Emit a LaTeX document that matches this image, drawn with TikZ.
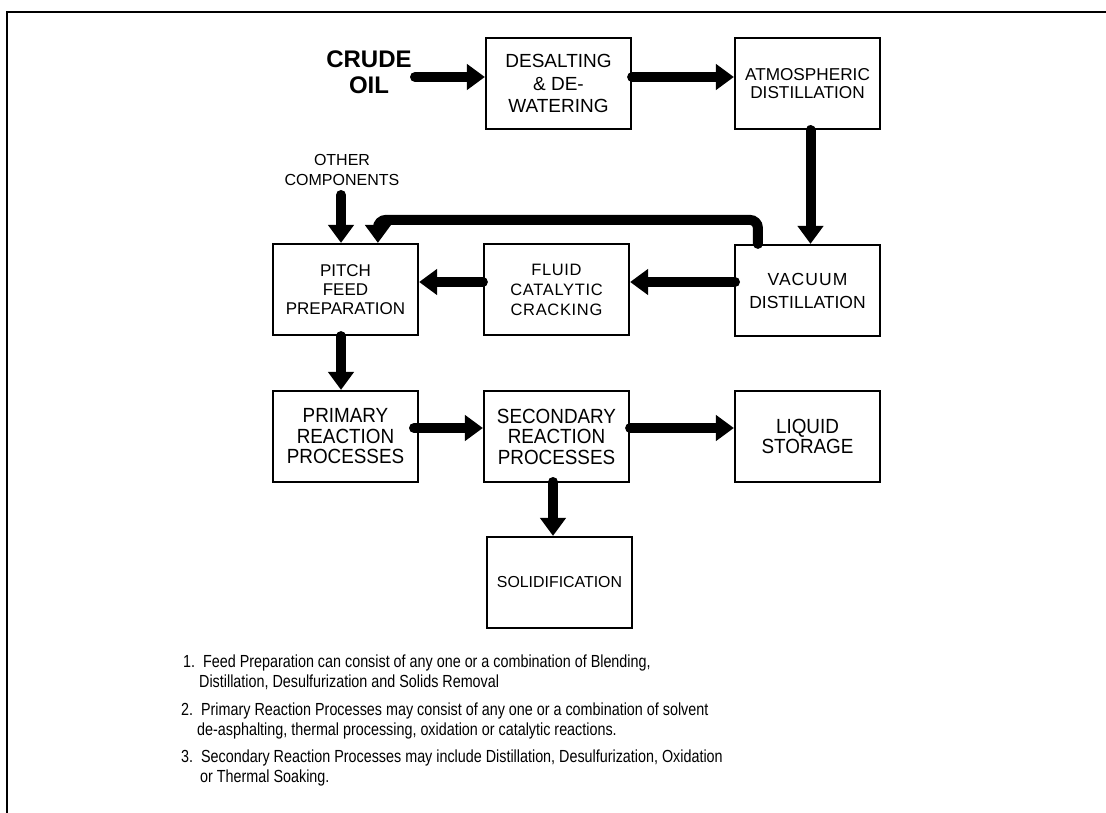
\documentclass[tikz,border=0pt]{standalone}
\usepackage{fontspec}
\setmainfont{Liberation Sans}
\newfontfamily\spacedA[LetterSpace=6]{Liberation Sans}
\newfontfamily\spacedB[LetterSpace=4]{Liberation Sans}
\newfontfamily\tallfont[FakeStretch=0.92]{Liberation Sans}
\newfontfamily\narrowfont[FakeStretch=0.82]{Liberation Sans}
\usetikzlibrary{arrows.meta}
\tikzset{
  box/.style={draw, line width=2.2pt, inner sep=0pt, minimum width=145pt, minimum height=91pt, align=center},
  flow/.style={line width=10pt, line cap=round, -{Triangle[width=25pt,length=18pt]}},
  note/.style={anchor=base west, inner sep=0pt, font={\narrowfont\fontsize{17.5}{20}\selectfont}},
}
\begin{document}
\begin{tikzpicture}[x=1pt,y=-1pt]
\useasboundingbox (0,0) rectangle (1106,813);
% frame
\draw[line width=2.5pt] (7,813) -- (7,12) -- (1106,12);

% boxes
\node[box, font={\fontsize{19}{22.5}\selectfont}] (desalt) at (558.5,83.5) {DESALTING\\\& DE-\\WATERING};
\node[box, font={\fontsize{17.2}{18.5}\selectfont}] (atmos) at (807.5,83.5) {ATMOSPHERIC\\DISTILLATION};
\node[box, font={\fontsize{17.5}{23}\selectfont}] (vacuum) at (807.5,290.5) {{\spacedA VACUUM}\\DISTILLATION};
\node[box, font={\spacedB\fontsize{16.5}{20}\selectfont}] (fcc) at (556.5,289.5) {FLUID\\CATALYTIC\\CRACKING};
\node[box, font={\fontsize{17}{19}\selectfont}] (pitch) at (345.5,289.5) {PITCH\\FEED\\PREPARATION};
\node[box, font={\tallfont\fontsize{20.5}{20.5}\selectfont}] (primary) at (345.5,436.5) {PRIMARY\\REACTION\\PROCESSES};
\node[box, font={\tallfont\fontsize{20.5}{20.5}\selectfont}] (secondary) at (556.5,436.5) {SECONDARY\\REACTION\\PROCESSES};
\node[box, font={\tallfont\fontsize{20.5}{20.5}\selectfont}] (liquid) at (807.5,436.5) {LIQUID\\STORAGE};
\node[box, font={\fontsize{15.9}{19}\selectfont}] (solid) at (559.5,582.5) {SOLIDIFICATION};

% free texts
\node[align=center, inner sep=0pt, font={\bfseries\fontsize{24}{26}\selectfont}] (crude) at (369,72) {CRUDE\\OIL};
\node[align=center, inner sep=0pt, font={\fontsize{16}{20}\selectfont}] (other) at (342,170) {OTHER\\COMPONENTS};

% connectors
\coordinate (cs) at (415,77);
\draw[flow] (cs) -- (cs -| desalt.west);
\draw[flow] (desalt.east |- cs) -- (atmos.west |- cs);
\draw[flow] ([xshift=3pt]atmos.south) -- ([xshift=3pt]vacuum.north);
\coordinate (vf) at (735,282);
\draw[flow] (vf) -- (vf -| fcc.east);
\draw[flow] (fcc.west |- vf) -- (vf -| pitch.east);
\draw[flow, rounded corners=8pt] ([xshift=24pt]vacuum.north west) -- ++(0,-24) -| ([xshift=106pt]pitch.north west);
\coordinate (oc) at (341,195);
\draw[flow] (oc) -- (oc |- pitch.north);
\draw[flow] (oc |- pitch.south) -- (oc |- primary.north);
\coordinate (ps) at (414,428);
\draw[flow] (ps) -- (ps -| secondary.west);
\draw[flow] (secondary.east |- ps) -- (ps -| liquid.west);
\coordinate (ss) at (553,482);
\draw[flow] (ss) -- (ss |- solid.north);

% notes
\node[note] (n1a) at (183,667) {1.\ \ Feed Preparation can consist of any one or a combination of Blending,};
\node[note] (n1b) at (199,687) {Distillation, Desulfurization and Solids Removal};
\node[note] (n2a) at (181,715) {2.\ \ Primary Reaction Processes may consist of any one or a combination of solvent};
\node[note] (n2b) at (197,735) {de-asphalting, thermal processing, oxidation or catalytic reactions.};
\node[note] (n3a) at (181,762) {3.\ \ Secondary Reaction Processes may include Distillation, Desulfurization, Oxidation};
\node[note] (n3b) at (200,782) {or Thermal Soaking.};
\end{tikzpicture}
\end{document}
